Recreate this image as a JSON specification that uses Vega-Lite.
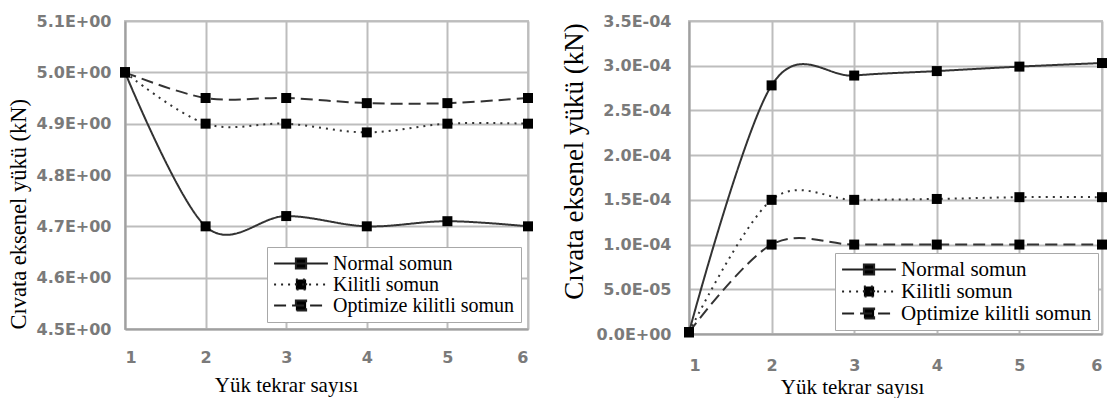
{
  "$schema": "https://vega.github.io/schema/vega-lite/v6.json",
  "padding": {"left": 6, "top": 12, "right": 4, "bottom": 0},
  "spacing": 25,
  "background": "white",
  "config": {
    "view": {"stroke": "#c4c4c4", "strokeWidth": 2},
    "axis": {
      "labelFont": "DejaVu Sans", "labelFontSize": 16, "labelFontWeight": "bold", "labelColor": "#7a7a7a",
      "titleFont": "Liberation Serif, Times New Roman, Times, DejaVu Serif, serif", "titleFontSize": 21, "titleFontWeight": "normal", "titleColor": "#000",
      "gridColor": "#bdbdbd", "gridWidth": 2, "gridOpacity": 1,
      "domainColor": "#a0a0a0", "domainWidth": 2, "tickSize": 0
    },
    "legend": {
      "orient": "bottom-right", "title": null,
      "labelFont": "Liberation Serif, Times New Roman, Times, DejaVu Serif, serif", "labelFontSize": 20, "labelColor": "#000", "labelLimit": 400,
      "strokeColor": "#a8a8a8", "fillColor": "#fff", "padding": 6,
      "symbolType": "M-1,0H1M-0.19,-0.19H0.19V0.19H-0.19Z", "symbolSize": 2900,
      "symbolStrokeWidth": 2, "symbolStrokeColor": "#222", "symbolFillColor": "#000", "symbolOpacity": 1,
      "labelOffset": 4, "rowPadding": 0, "clipHeight": 21
    }
  },
  "datasets": {
    "left": [
      {"x": 1, "y": 5.0, "series": "Normal somun"},
      {"x": 2, "y": 4.70, "series": "Normal somun"},
      {"x": 3, "y": 4.72, "series": "Normal somun"},
      {"x": 4, "y": 4.70, "series": "Normal somun"},
      {"x": 5, "y": 4.71, "series": "Normal somun"},
      {"x": 6, "y": 4.70, "series": "Normal somun"},
      {"x": 1, "y": 5.0, "series": "Kilitli somun"},
      {"x": 2, "y": 4.90, "series": "Kilitli somun"},
      {"x": 3, "y": 4.90, "series": "Kilitli somun"},
      {"x": 4, "y": 4.883, "series": "Kilitli somun"},
      {"x": 5, "y": 4.90, "series": "Kilitli somun"},
      {"x": 6, "y": 4.90, "series": "Kilitli somun"},
      {"x": 1, "y": 5.0, "series": "Optimize kilitli somun"},
      {"x": 2, "y": 4.95, "series": "Optimize kilitli somun"},
      {"x": 3, "y": 4.95, "series": "Optimize kilitli somun"},
      {"x": 4, "y": 4.94, "series": "Optimize kilitli somun"},
      {"x": 5, "y": 4.94, "series": "Optimize kilitli somun"},
      {"x": 6, "y": 4.95, "series": "Optimize kilitli somun"}
    ],
    "right": [
      {"x": 1, "y": 0.000002, "series": "Normal somun"},
      {"x": 2, "y": 0.000278, "series": "Normal somun"},
      {"x": 3, "y": 0.000289, "series": "Normal somun"},
      {"x": 4, "y": 0.000294, "series": "Normal somun"},
      {"x": 5, "y": 0.000299, "series": "Normal somun"},
      {"x": 6, "y": 0.000303, "series": "Normal somun"},
      {"x": 1, "y": 0.000002, "series": "Kilitli somun"},
      {"x": 2, "y": 0.000150, "series": "Kilitli somun"},
      {"x": 3, "y": 0.000150, "series": "Kilitli somun"},
      {"x": 4, "y": 0.000151, "series": "Kilitli somun"},
      {"x": 5, "y": 0.000153, "series": "Kilitli somun"},
      {"x": 6, "y": 0.000153, "series": "Kilitli somun"},
      {"x": 1, "y": 0.000002, "series": "Optimize kilitli somun"},
      {"x": 2, "y": 0.000100, "series": "Optimize kilitli somun"},
      {"x": 3, "y": 0.000100, "series": "Optimize kilitli somun"},
      {"x": 4, "y": 0.000100, "series": "Optimize kilitli somun"},
      {"x": 5, "y": 0.000100, "series": "Optimize kilitli somun"},
      {"x": 6, "y": 0.000100, "series": "Optimize kilitli somun"}
    ]
  },
  "resolve": {"scale": {"strokeDash": "independent"}, "legend": {"strokeDash": "independent"}},
  "hconcat": [
    {
      "width": 403, "height": 308,
      "data": {"name": "left"},
      "encoding": {
        "x": {"field": "x", "type": "quantitative", "scale": {"domain": [1, 6], "nice": false, "zero": false},
          "axis": {"values": [1, 2, 3, 4, 5, 6], "title": "Yük tekrar sayısı", "titleX": 161, "labelPadding": 20, "titlePadding": 9}},
        "y": {"field": "y", "type": "quantitative", "scale": {"domain": [4.5, 5.1], "nice": false, "zero": false},
          "axis": {"values": [4.5, 4.6, 4.7, 4.8, 4.9, 5.0, 5.1], "labelExpr": "format(datum.value,'.1f')+'E+00'",
            "title": "Cıvata eksenel yükü (kN)", "titleFontSize": 22.5, "titleAnchor": "start", "labelPadding": 14, "titlePadding": 6}}
      },
      "layer": [
        {"mark": {"type": "line", "interpolate": "cardinal", "color": "#333", "strokeWidth": 2},
          "encoding": {"strokeDash": {"field": "series", "type": "nominal",
            "scale": {"domain": ["Normal somun", "Kilitli somun", "Optimize kilitli somun"], "range": [[1, 0], [2, 5], [12, 6]]},
            "legend": {"offset": 7}}}},
        {"mark": {"type": "point", "shape": "square", "filled": true, "color": "#000", "size": 100, "opacity": 1},
          "encoding": {"detail": {"field": "series"}}}
      ]
    },
    {
      "width": 413, "height": 313,
      "data": {"name": "right"},
      "encoding": {
        "x": {"field": "x", "type": "quantitative", "scale": {"domain": [1, 6], "nice": false, "zero": false},
          "axis": {"values": [1, 2, 3, 4, 5, 6], "title": "Yük tekrar sayısı", "titleX": 163, "labelPadding": 23, "titlePadding": 3}},
        "y": {"field": "y", "type": "quantitative", "scale": {"domain": [0, 0.00035], "nice": false, "zero": false},
          "axis": {"values": [0, 0.00005, 0.0001, 0.00015, 0.0002, 0.00025, 0.0003, 0.00035],
            "labelExpr": "datum.value == 0 ? '0.0E+00' : (datum.value < 0.0000999 ? format(datum.value*100000,'.1f')+'E-05' : format(datum.value*10000,'.1f')+'E-04')",
            "title": "Cıvata eksenel yükü (kN)", "titleFontSize": 27, "titleY": 140, "labelPadding": 18, "titlePadding": 8}}
      },
      "layer": [
        {"mark": {"type": "line", "interpolate": "cardinal", "color": "#333", "strokeWidth": 2},
          "encoding": {"strokeDash": {"field": "series", "type": "nominal",
            "scale": {"domain": ["Normal somun", "Kilitli somun", "Optimize kilitli somun"], "range": [[1, 0], [2, 5], [12, 6]]},
            "legend": {"offset": 4, "labelFontSize": 21}}}},
        {"mark": {"type": "point", "shape": "square", "filled": true, "color": "#000", "size": 100, "opacity": 1},
          "encoding": {"detail": {"field": "series"}}}
      ]
    }
  ]
}
